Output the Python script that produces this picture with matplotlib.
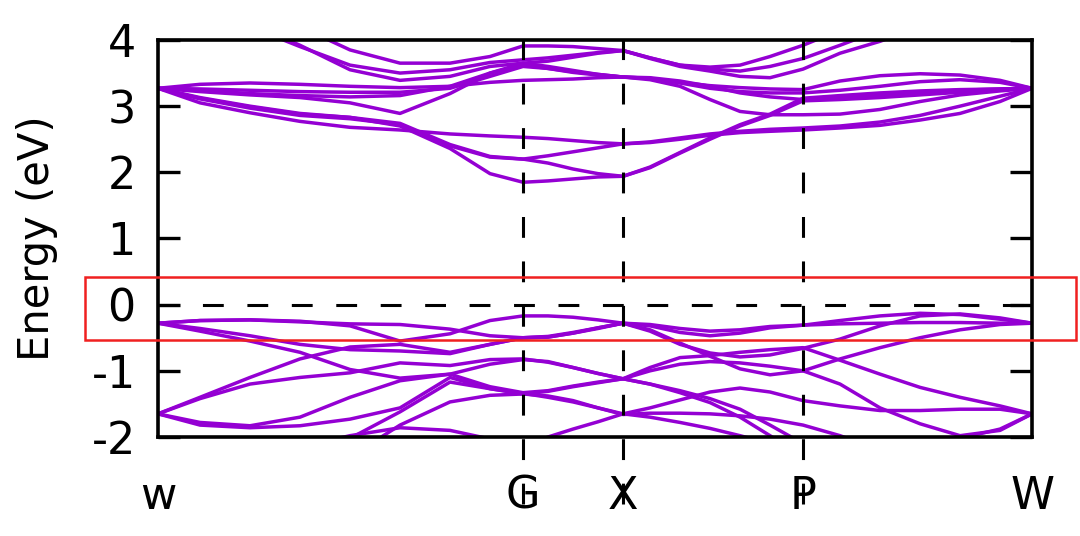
import numpy as np
import matplotlib
matplotlib.use('Agg')
import matplotlib.pyplot as plt
from matplotlib.patches import Rectangle

nan = np.nan

# k-path distance (W-G-X-P-W) and high symmetry points
kpts = [0.0, 0.42, 0.92, 1.42, 1.92, 2.42, 2.92, 3.32, 3.65,
	3.90, 4.15, 4.40, 4.65,
	4.92, 5.22, 5.52, 5.82, 6.12, 6.45,
	6.82, 7.22, 7.62, 8.02, 8.42, 8.74]
knodes = [0.0, 3.65, 4.65, 6.45, 8.74]
klabels = ['w', 'G', 'X', 'P', 'W']
eticks = [-2, -1, 0, 1, 2, 3, 4]

# conduction bands (eV)
cb1 = [3.27, 3.33, 3.35, 3.33, 3.30, 3.28, 3.30, 3.36, 3.39, 3.40, 3.41, 3.43, 3.44,
	3.42, 3.36, 3.31, 3.28, 3.26, 3.25, 3.38, 3.46, 3.49, 3.47, 3.39, 3.27]
cb2 = [3.27, 3.26, 3.24, 3.22, 3.21, 3.21, 3.27, 3.45, 3.60, 3.57, 3.52, 3.48, 3.44,
	3.42, 3.35, 3.27, 3.22, 3.20, 3.20, 3.24, 3.30, 3.37, 3.40, 3.36, 3.27]
cb3 = [3.27, 3.24, 3.19, 3.16, 3.14, 3.16, 3.30, 3.50, 3.65, 3.60, 3.54, 3.48, 3.44,
	3.43, 3.38, 3.30, 3.20, 3.14, 3.10, 3.13, 3.17, 3.21, 3.24, 3.26, 3.27]
cb4 = [3.27, 3.22, 3.17, 3.13, 3.05, 2.89, 3.19, 3.50, 3.62, 3.57, 3.51, 3.47, 3.44,
	3.40, 3.30, 3.10, 2.92, 2.87, 2.87, 2.88, 2.95, 3.07, 3.17, 3.23, 3.27]
cb5 = [3.27, 3.12, 2.99, 2.88, 2.83, 2.74, 2.42, 2.24, 2.20, 2.14, 2.05, 1.98, 1.94,
	2.08, 2.30, 2.52, 2.72, 2.88, 3.12, 3.16, 3.20, 3.23, 3.25, 3.26, 3.27]
cb6 = [3.27, 3.11, 2.97, 2.86, 2.81, 2.72, 2.40, 2.23, 2.20, 2.25, 2.31, 2.37, 2.43,
	2.46, 2.52, 2.58, 2.62, 2.65, 2.67, 2.70, 2.76, 2.86, 3.00, 3.15, 3.27]
cb7 = [3.27, 3.05, 2.90, 2.77, 2.68, 2.64, 2.58, 2.55, 2.53, 2.51, 2.48, 2.45, 2.43,
	2.45, 2.50, 2.56, 2.60, 2.62, 2.64, 2.67, 2.71, 2.79, 2.89, 3.07, 3.27]
cb8 = [3.27, 3.13, 3.00, 2.89, 2.83, 2.70, 2.36, 1.98, 1.85, 1.87, 1.90, 1.93, 1.94,
	2.07, 2.29, 2.50, 2.70, 2.86, 3.08, 3.10, 3.13, 3.17, 3.21, 3.25, 3.27]
cb9 = [nan, nan, 4.20, 3.90, 3.62, 3.50, 3.55, 3.66, 3.70, 3.73, 3.77, 3.81, 3.84,
	3.73, 3.62, 3.59, 3.62, 3.75, 3.92, 4.15, nan, nan, nan, nan, nan]
cb10 = [nan, nan, 4.25, 3.92, 3.55, 3.39, 3.45, 3.60, 3.65, 3.68, 3.74, 3.80, 3.84,
	3.73, 3.62, 3.56, 3.53, 3.60, 3.72, 3.92, 4.15, nan, nan, nan, nan]
cb11 = [nan, nan, nan, 4.20, 3.85, 3.65, 3.65, 3.75, 3.91, 3.91, 3.90, 3.87, 3.84,
	3.72, 3.60, 3.53, 3.45, 3.43, 3.56, 3.80, 3.98, 4.20, nan, nan, nan]

# valence bands (eV)
vb1 = [-0.28, -0.24, -0.23, -0.25, -0.32, -0.55, -0.44, -0.24, -0.17, -0.17, -0.19, -0.23, -0.28,
	-0.32, -0.42, -0.47, -0.43, -0.35, -0.31, -0.29, -0.28, -0.27, -0.27, -0.28, -0.28]
vb2 = [-0.28, -0.24, -0.23, -0.26, -0.29, -0.30, -0.37, -0.47, -0.50, -0.48, -0.42, -0.35, -0.28,
	-0.40, -0.60, -0.73, -0.79, -0.76, -0.66, -0.52, -0.32, -0.17, -0.14, -0.20, -0.28]
vb3 = [-0.28, -0.36, -0.47, -0.60, -0.68, -0.70, -0.74, -0.60, -0.50, -0.49, -0.43, -0.36, -0.28,
	-0.38, -0.58, -0.78, -0.97, -1.06, -1.00, -0.82, -0.65, -0.50, -0.38, -0.30, -0.28]
vb4 = [-0.28, -0.40, -0.55, -0.72, -0.98, -1.11, -1.05, -0.90, -0.83, -0.86, -0.95, -1.04, -1.12,
	-0.95, -0.80, -0.77, -0.72, -0.68, -0.65, -0.84, -1.05, -1.25, -1.40, -1.53, -1.65]
vb5 = [-1.65, -1.40, -1.10, -0.82, -0.64, -0.60, -0.72, -0.60, -0.50, -0.49, -0.43, -0.35, -0.28,
	-0.30, -0.36, -0.40, -0.38, -0.33, -0.31, -0.24, -0.17, -0.13, -0.15, -0.22, -0.28]
vb6 = [-1.65, -1.42, -1.20, -1.10, -1.03, -0.88, -0.92, -0.83, -0.82, -0.87, -0.95, -1.04, -1.12,
	-1.00, -0.90, -0.86, -0.88, -0.93, -1.00, -1.20, -1.56, -1.80, -1.98, -1.90, -1.65]
vb7 = [-1.65, -1.78, -1.83, -1.70, -1.40, -1.15, -1.05, -1.24, -1.33, -1.30, -1.23, -1.17, -1.12,
	-1.20, -1.30, -1.42, -1.58, -1.82, -2.10, nan, nan, nan, nan, nan, nan]
vb8 = [-1.65, -1.82, -1.86, -1.83, -1.73, -1.56, -1.10, -1.27, -1.35, -1.31, -1.24, -1.18, -1.12,
	-1.20, -1.33, -1.48, -1.70, -1.98, -2.30, nan, nan, nan, nan, nan, nan]
vb9 = [nan, nan, nan, nan, -2.30, -1.82, -1.47, -1.37, -1.35, -1.38, -1.45, -1.56, -1.66,
	-1.64, -1.64, -1.65, -1.68, -1.73, -1.82, -1.98, -2.20, nan, nan, nan, nan]
vb10 = [nan, nan, nan, nan, -2.02, -1.62, -1.17, -1.27, -1.34, -1.40, -1.47, -1.56, -1.65,
	-1.70, -1.78, -1.87, -1.98, -2.10, nan, nan, nan, nan, nan, nan, nan]
vb11 = [nan, nan, nan, -2.15, -1.98, -1.86, -1.90, -2.03, -2.15, -2.00, -1.88, -1.77, -1.65,
	-1.56, -1.44, -1.32, -1.26, -1.32, -1.45, -1.53, -1.60, -1.60, -1.58, -1.58, -1.65]
vb12 = [nan, nan, nan, nan, nan, nan, nan, nan, nan, nan, nan, nan, nan,
	nan, nan, nan, nan, nan, nan, nan, nan, -2.20, -2.02, -1.88, -1.65]

bands = [cb1, cb2, cb3, cb4, cb5, cb6, cb7, cb8, cb9, cb10, cb11,
	vb1, vb2, vb3, vb4, vb5, vb6, vb7, vb8, vb9, vb10, vb11, vb12]

# highlighted window around the gap
box_k = [-0.73, 9.18]
box_e = [-0.53, 0.42]

plt.rcParams['font.family'] = ['DejaVu Sans']
plt.rcParams['lines.scale_dashes'] = False
plt.rcParams['axes.unicode_minus'] = False

fig = plt.figure(figsize=(10.8, 5.36), dpi=100)
ax = fig.add_axes([0.1463, 0.1847, 0.8093, 0.7407])

for b in bands:
	ax.plot(kpts, b, color='#9400D3', lw=2.5, solid_joinstyle='round', solid_capstyle='round')

ax.axhline(0, color='k', lw=2.2, dashes=(15, 17))
for kn in knodes[1:-1]:
	ax.axvline(kn, ymin=-0.17, ymax=1, color='k', lw=2.2, dashes=(15, 17), clip_on=False, zorder=5)

ax.add_patch(Rectangle((box_k[0], box_e[0]), box_k[1] - box_k[0], box_e[1] - box_e[0],
	fill=False, edgecolor='#F02020', lw=1.8, clip_on=False, zorder=6))

ax.set_xlim(knodes[0], knodes[-1])
ax.set_ylim(-2, 4)
ax.set_xticks(knodes)
ax.set_xticklabels(klabels)
ax.set_yticks(eticks)
ax.set_ylabel('Energy (eV)', fontsize=30, labelpad=24)

ax.tick_params(axis='y', direction='in', length=16, width=2.4, labelsize=32, pad=16, right=True)
ax.tick_params(axis='x', length=0, labelsize=32, pad=27)
for sp in ax.spines.values():
	sp.set_linewidth(2.6)

plt.savefig('out.png', dpi=100)
